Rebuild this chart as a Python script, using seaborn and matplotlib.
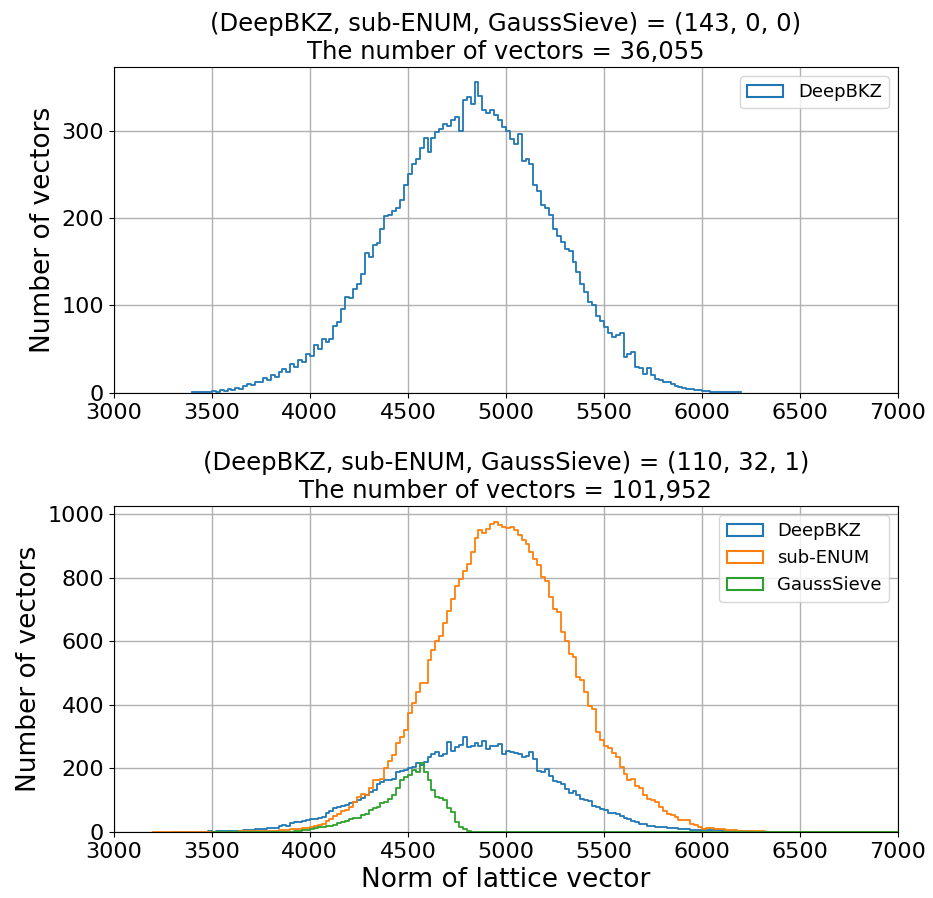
import numpy as np
import pandas as pd
import matplotlib
matplotlib.use("Agg")
import matplotlib.pyplot as plt
from matplotlib.patches import Patch
import seaborn as sns

# histogram counts, 20-unit bins
bin_width = 20

top_titles = ["(DeepBKZ, sub-ENUM, GaussSieve) = (143, 0, 0)",
              "The number of vectors = 36,055"]
bottom_titles = ["(DeepBKZ, sub-ENUM, GaussSieve) = (110, 32, 1)",
                 "The number of vectors = 101,952"]

top_deepbkz_start = 3400
top_deepbkz = [1, 1, 1, 1, 1, 2, 1, 3, 2, 4, 3, 6, 5, 8, 10, 9, 13, 12, 17, 15,
               20, 18, 24, 27, 24, 33, 30, 38, 35, 44, 42, 55, 50, 62, 58, 62, 76, 81, 96, 110,
               108, 119, 125, 136, 160, 155, 169, 172, 188, 202, 203, 208, 212, 221, 238, 250, 262, 268, 280, 292,
               275, 292, 298, 302, 308, 305, 312, 315, 300, 335, 338, 330, 355, 340, 323, 320, 323, 318, 312, 304,
               300, 290, 285, 296, 265, 268, 262, 238, 231, 215, 212, 204, 188, 180, 173, 165, 162, 150, 138, 125,
               115, 104, 100, 88, 82, 75, 68, 64, 66, 68, 41, 45, 47, 30, 29, 22, 28, 20, 16, 15,
               12, 12, 10, 8, 7, 6, 5, 4, 3, 3, 2, 2, 1, 1, 1, 1, 1, 1, 1, 1]

bottom_deepbkz_start = 3300
bottom_deepbkz = [1, 0, 1, 1, 0, 1, 1, 1, 1, 2, 1, 2, 2, 3, 2, 3, 4, 3, 5, 6,
                  6, 8, 10, 9, 12, 14, 13, 18, 22, 20, 28, 31, 30, 36, 38, 40, 41, 43, 48, 61,
                  66, 75, 79, 82, 84, 90, 95, 100, 108, 115, 125, 132, 150, 158, 163, 165, 168, 189, 192, 195,
                  200, 205, 216, 210, 221, 235, 247, 253, 240, 247, 284, 255, 268, 275, 300, 268, 272, 280, 272, 287,
                  261, 272, 270, 277, 245, 255, 251, 248, 245, 235, 240, 251, 230, 193, 190, 198, 175, 161, 158, 150,
                  135, 124, 129, 115, 103, 100, 98, 82, 80, 72, 68, 61, 60, 58, 50, 45, 40, 35, 30, 26,
                  24, 20, 19, 17, 16, 15, 14, 14, 12, 11, 9, 8, 7, 6, 6, 7, 6, 7, 5, 5,
                  4, 4, 3, 3, 3, 2, 2, 2, 1, 1, 1, 1, 1, 1, 1, 1, 0, 1, 1, 0,
                  1, 0, 1, 0, 0, 1, 0, 0, 1, 0, 0, 1, 0, 0, 0, 1, 0, 0, 0, 1]

bottom_subenum_start = 3200
bottom_subenum = [1, 0, 1, 0, 1, 1, 0, 1, 1, 1, 0, 1, 1, 1, 1, 1, 1, 1, 1, 1,
                  1, 1, 2, 2, 2, 2, 3, 3, 3, 4, 4, 4, 5, 6, 7, 8, 8, 10, 12, 13,
                  16, 18, 22, 24, 34, 42, 50, 58, 65, 70, 79, 95, 110, 121, 116, 140, 163, 165, 168, 200,
                  225, 242, 279, 300, 321, 374, 405, 440, 468, 468, 542, 574, 600, 616, 658, 695, 732, 774, 795, 820,
                  845, 880, 924, 950, 940, 955, 970, 977, 965, 961, 956, 961, 950, 935, 920, 905, 880, 860, 840, 803,
                  790, 740, 703, 693, 629, 600, 561, 551, 487, 477, 440, 398, 387, 314, 290, 272, 263, 250, 237, 205,
                  184, 163, 168, 145, 137, 116, 105, 100, 95, 79, 65, 58, 53, 47, 37, 38, 39, 25, 21, 16,
                  11, 13, 14, 11, 11, 8, 7, 6, 5, 4, 3, 3, 2, 2, 2, 2, 1, 1, 1, 1,
                  1, 1, 0, 1, 1, 1, 0, 1, 1, 0, 1, 1, 0, 1, 1, 0, 1, 0, 1, 0,
                  1, 0, 1, 0, 0, 1, 0, 1, 0, 1]

bottom_gausssieve_start = 3500
bottom_gausssieve = [0, 1, 0, 1, 1, 0, 1, 1, 1, 1, 1, 1, 1, 1, 1, 1, 1, 1, 1, 1,
                     1, 2, 3, 5, 7, 9, 12, 15, 17, 18, 18, 22, 28, 32, 36, 40, 45, 45, 52, 58,
                     68, 75, 79, 90, 95, 105, 118, 137, 163, 174, 180, 195, 190, 216, 190, 163, 132, 111, 108, 100,
                     75, 63, 32, 15, 8, 2, 1, 0, 0, 0, 0, 1, 0, 0, 1, 0, 0, 0, 1, 0,
                     0, 1, 0, 0, 0, 1, 0, 1, 0, 0, 0, 1, 0, 0, 1, 0, 0, 0, 1, 0,
                     1, 0, 0, 1, 0, 0, 0, 1, 0, 0, 1, 0, 0, 1, 0, 0, 0, 1, 0, 1,
                     0, 0, 1, 0, 0, 1, 0, 0, 0, 1, 0, 1, 0, 0, 1, 0, 0, 0, 1, 0,
                     0, 1, 0, 0, 0, 1, 0, 0, 1, 0, 1, 0, 0, 0, 1, 0, 0, 1, 0, 0,
                     1, 0, 0, 0, 1, 0, 0, 1, 0, 1, 0, 0, 1, 0, 0]

colors = {"DeepBKZ": "#1f77b4", "sub-ENUM": "#ff7f0e", "GaussSieve": "#2ca02c"}


def draw_hist(ax, start, counts, color):
    edges = start + bin_width * np.arange(len(counts) + 1)
    df = pd.DataFrame({"norm": edges[:-1] + bin_width / 2, "count": counts})
    sns.histplot(data=df, x="norm", weights="count", bins=list(edges), element="step",
                 fill=False, color=color, linewidth=1.3, ax=ax)


def style_axis(ax, titles, names):
    ax.set_title("\n".join(titles), fontsize=17.5)
    ax.set_xlim(3000, 7000)
    ax.set_xticks(np.arange(3000, 7001, 500))
    ax.set_ylabel("Number of vectors", fontsize=19)
    ax.set_xlabel("")
    ax.tick_params(labelsize=16)
    ax.grid(True, color="#b0b0b0", linewidth=1.0)
    ax.set_axisbelow(True)
    handles = [Patch(facecolor="none", edgecolor=colors[n], linewidth=1.5, label=n) for n in names]
    ax.legend(handles=handles, loc="upper right", fontsize=13)


fig, axes = plt.subplots(2, 1, figsize=(9.33, 8.98), dpi=100)
fig.subplots_adjust(left=0.122, right=0.9625, top=0.9254, bottom=0.0735, hspace=0.347)

# (top) DeepBKZ only
ax = axes[0]
draw_hist(ax, top_deepbkz_start, top_deepbkz, colors["DeepBKZ"])
style_axis(ax, top_titles, ["DeepBKZ"])
ax.set_yticks([0, 100, 200, 300])

# (bottom) all three
ax = axes[1]
draw_hist(ax, bottom_deepbkz_start, bottom_deepbkz, colors["DeepBKZ"])
draw_hist(ax, bottom_subenum_start, bottom_subenum, colors["sub-ENUM"])
draw_hist(ax, bottom_gausssieve_start, bottom_gausssieve, colors["GaussSieve"])
style_axis(ax, bottom_titles, ["DeepBKZ", "sub-ENUM", "GaussSieve"])
ax.set_yticks([0, 200, 400, 600, 800, 1000])
ax.set_xlabel("Norm of lattice vector", fontsize=19)

fig.savefig("out.png", dpi=100)
